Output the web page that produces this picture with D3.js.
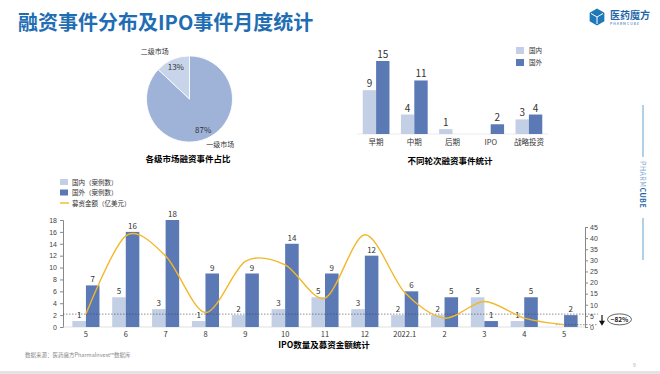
<!DOCTYPE html>
<head>
<meta charset="utf-8">
<script src="https://d3js.org/d3.v7.min.js"></script>
<style>
body {
  margin: 0;
  width: 660px;
  height: 374px;
  overflow: hidden;
  background: #fff;
  font-family: "Noto Sans CJK SC", "Noto Sans", sans-serif;
  color: #333;
}
.tick line { stroke: #888; }
.domain { stroke: #888; }
.tick text { fill: #444; }
</style>
</head>
<body>
<div id="chart"></div>
<script>

// --- data ---
let pieLabels = ["一级市场", "二级市场"],
    pieValues = [87, 13];

let stages = ["早期", "中期", "后期", "IPO", "战略投资"],
    stageDomestic = [9, 4, 1, 0, 3],
    stageForeign = [15, 11, 0, 2, 4];

let months = ["5", "6", "7", "8", "9", "10", "11", "12", "2022.1", "2", "3", "4", "5"],
    ipoDomestic = [1, 5, 3, 1, 2, 3, 5, 3, 2, 2, 5, 1, 0],
    ipoForeign = [7, 16, 18, 9, 9, 14, 9, 12, 6, 5, 1, 5, 2],
    ipoAmount = [5.8, 41, 32, 6.5, 29.5, 28, 13, 41.5, 15.5, 4, 11.5, 4, 1.05];

let leftTicks = d3.range(0, 19, 2),
    rightTicks = d3.range(0, 46, 5);

let cLight = "#c3cfe5", cDark = "#5b79b5", cLine = "#f2b829", cTitle = "#1f6db3";

let svg = d3.select("#chart").append("svg")
    .attr("width", 660)
    .attr("height", 374);

// --- header ---
svg.append("text")
    .attr("x", 18).attr("y", 30)
    .attr("font-size", 20).attr("font-weight", "bold")
    .attr("fill", cTitle)
    .text("融资事件分布及IPO事件月度统计");

// logo
let logo = svg.append("g").attr("transform", "translate(597,17)");
logo.append("path")
    .attr("d", d3.line()(d3.range(6).map(function(i) {
      let a = Math.PI / 3 * i + Math.PI / 6;
      return [8.5 * Math.cos(a), 8.5 * Math.sin(a)];
    })) + "Z")
    .attr("fill", "#1f78b8");
logo.append("path")
    .attr("d", "M0,0 L0,7 M0,0 L-6,-3.5 M0,0 L6,-3.5")
    .attr("stroke", "#fff").attr("stroke-width", 1);
svg.append("text")
    .attr("x", 610).attr("y", 19)
    .attr("font-size", 10).attr("font-weight", "bold")
    .attr("fill", "#1f66a8")
    .text("医药魔方");
svg.append("text")
    .attr("x", 610).attr("y", 25)
    .attr("font-size", 3.5).attr("letter-spacing", 1)
    .attr("fill", "#1f66a8")
    .text("PHARMCUBE");

// side brand line
svg.append("line").attr("x1", 643).attr("x2", 643).attr("y1", 105).attr("y2", 157)
    .attr("stroke", "#3a8cc4").attr("stroke-width", 0.8);
svg.append("line").attr("x1", 643).attr("x2", 643).attr("y1", 218).attr("y2", 260)
    .attr("stroke", "#3a8cc4").attr("stroke-width", 0.8);
let brand = svg.append("text")
    .attr("transform", "translate(640,161) rotate(90)")
    .attr("font-size", 7).attr("letter-spacing", 0.5);
brand.append("tspan").attr("fill", "#7aa6cc").text("PHARM");
brand.append("tspan").attr("fill", "#1f66a8").attr("font-weight", "bold").text("CUBE");

// footer
svg.append("text")
    .attr("x", 25).attr("y", 357)
    .attr("font-size", 5.5).attr("fill", "#888")
    .text("数据来源：医药魔方PharmaInvest™数据库");
svg.append("text")
    .attr("x", 633).attr("y", 367)
    .attr("font-size", 5).attr("fill", "#aaa")
    .text("9");
svg.append("rect")
    .attr("x", 0).attr("y", 371).attr("width", 660).attr("height", 3)
    .attr("fill", "#e4e4e4");

// --- pie ---
let pieR = 43;
let pieG = svg.append("g").attr("transform", "translate(189.5,99)");
let pie = d3.pie().sort(null)(pieValues);
let arc = d3.arc().innerRadius(0).outerRadius(pieR);
let labelArc = d3.arc().innerRadius(pieR * 0.8).outerRadius(pieR * 0.8);

pieG.selectAll("path")
  .data(pie)
  .enter().append("path")
    .attr("d", arc)
    .attr("fill", function(d, i) { return i == 0 ? "#9fb3d8" : "#c8d4e9"; })
    .attr("stroke", "#fff").attr("stroke-width", 0.8);

pieG.selectAll("text.pct")
  .data(pie)
  .enter().append("text")
    .attr("class", "pct")
    .attr("transform", function(d) { return "translate(" + labelArc.centroid(d) + ")"; })
    .attr("text-anchor", "middle").attr("dy", "0.35em")
    .attr("font-size", 8).attr("fill", "#333")
    .text(function(d) { return d.value + "%"; });

let outerArc = d3.arc().innerRadius(pieR * 1.1).outerRadius(pieR * 1.1);
pieG.selectAll("text.name")
  .data(pie)
  .enter().append("text")
    .attr("class", "name")
    .attr("transform", function(d, i) {
      let c = outerArc.centroid(d);
      return i == 0 ? "translate(" + (c[0] + 12) + "," + (c[1] + 4.5) + ")"
                    : "translate(" + (c[0] - 16) + "," + (c[1] - 2) + ")";
    })
    .attr("text-anchor", "middle")
    .attr("font-size", 7).attr("fill", "#333")
    .text(function(d, i) { return pieLabels[i]; });

svg.append("text")
    .attr("x", 188).attr("y", 162)
    .attr("text-anchor", "middle")
    .attr("font-size", 8.5).attr("font-weight", "bold")
    .text("各级市场融资事件占比");

// --- stage bars ---
let sx0 = d3.scaleBand().domain(stages).range([357, 548]),
    sy = d3.scaleLinear().domain([0, 15]).range([134, 61]);
let sbw = sx0.step() * 0.35;
let sx1 = d3.scaleBand().domain(["d", "f"]).range([-sbw, sbw]);

let stageRows = stages.map(function(s, i) {
  return {key: s, vals: [{k: "d", v: stageDomestic[i]}, {k: "f", v: stageForeign[i]}]};
});

svg.append("line")
    .attr("x1", sx0.range()[0]).attr("x2", sx0.range()[1])
    .attr("y1", sy(0)).attr("y2", sy(0))
    .attr("stroke", "#ddd").attr("stroke-width", 0.6);

let sg = svg.selectAll("g.stage")
  .data(stageRows)
  .enter().append("g")
    .attr("class", "stage")
    .attr("transform", function(d) { return "translate(" + (sx0(d.key) + sx0.bandwidth() / 2) + ",0)"; });

sg.selectAll("rect")
  .data(function(d) { return d.vals.filter(function(v) { return v.v > 0; }); })
  .enter().append("rect")
    .attr("x", function(d) { return sx1(d.k); })
    .attr("width", sx1.bandwidth())
    .attr("y", function(d) { return sy(d.v); })
    .attr("height", function(d) { return sy(0) - sy(d.v); })
    .attr("fill", function(d) { return d.k == "d" ? cLight : cDark; });

sg.selectAll("text.val")
  .data(function(d) { return d.vals.filter(function(v) { return v.v > 0; }); })
  .enter().append("text")
    .attr("class", "val")
    .attr("x", function(d) { return sx1(d.k) + sx1.bandwidth() / 2; })
    .attr("y", function(d) { return sy(d.v) - 3; })
    .attr("text-anchor", "middle")
    .attr("font-size", 10).attr("fill", "#333")
    .text(function(d) { return d.v; });

sg.append("text")
    .attr("y", sy(0) + 11)
    .attr("text-anchor", "middle")
    .attr("font-size", 7.5).attr("fill", "#333")
    .text(function(d) { return d.key; });

svg.append("text")
    .attr("x", 450).attr("y", 164)
    .attr("text-anchor", "middle")
    .attr("font-size", 8.5).attr("font-weight", "bold")
    .text("不同轮次融资事件统计");

let sLeg = svg.selectAll("g.sleg")
  .data([["国内", cLight], ["国外", cDark]])
  .enter().append("g")
    .attr("class", "sleg")
    .attr("transform", function(d, i) { return "translate(516," + (47 + i * 12) + ")"; });
sLeg.append("rect").attr("width", 8).attr("height", 7).attr("fill", function(d) { return d[1]; });
sLeg.append("text").attr("x", 13).attr("y", 6)
    .attr("font-size", 6.5).attr("fill", "#333")
    .text(function(d) { return d[0]; });

// --- IPO monthly chart ---
let x0 = d3.scaleBand().domain(d3.range(months.length)).range([66, 584]),
    yL = d3.scaleLinear().domain([0, 18]).range([327, 220]),
    yR = d3.scaleLinear().domain([0, 45]).range([327, 227]);
let bw = x0.step() * 0.34;
let x1 = d3.scaleBand().domain(["d", "f"]).range([-bw, bw]);
let cx = function(i) { return x0(i) + x0.bandwidth() / 2; };

let g = svg.append("g");

g.append("g")
    .attr("transform", "translate(63,0)")
    .call(d3.axisLeft(yL).tickValues(leftTicks).tickSize(3).tickPadding(3))
    .call(function(a) { a.selectAll("text").attr("font-size", 7); });

g.append("g")
    .attr("transform", "translate(585,0)")
    .call(d3.axisRight(yR).tickValues(rightTicks).tickSize(3).tickPadding(2))
    .call(function(a) { a.selectAll("text").attr("font-size", 7); });

g.append("line")
    .attr("x1", 63).attr("x2", 585)
    .attr("y1", yL(0)).attr("y2", yL(0))
    .attr("stroke", "#ccc").attr("stroke-width", 0.6);

let monthRows = months.map(function(m, i) {
  return {i: i, key: m, vals: [{k: "d", v: ipoDomestic[i]}, {k: "f", v: ipoForeign[i]}]};
});

let mg = g.selectAll("g.month")
  .data(monthRows)
  .enter().append("g")
    .attr("class", "month")
    .attr("transform", function(d) { return "translate(" + cx(d.i) + ",0)"; });

mg.selectAll("rect")
  .data(function(d) { return d.vals.filter(function(v) { return v.v > 0; }); })
  .enter().append("rect")
    .attr("x", function(d) { return x1(d.k); })
    .attr("width", x1.bandwidth())
    .attr("y", function(d) { return yL(d.v); })
    .attr("height", function(d) { return yL(0) - yL(d.v); })
    .attr("fill", function(d) { return d.k == "d" ? cLight : cDark; });

mg.selectAll("text.val")
  .data(function(d) { return d.vals.filter(function(v) { return v.v > 0; }); })
  .enter().append("text")
    .attr("class", "val")
    .attr("x", function(d) { return x1(d.k) + x1.bandwidth() / 2; })
    .attr("y", function(d) { return yL(d.v) - 3; })
    .attr("text-anchor", "middle")
    .attr("font-size", 8).attr("fill", "#333")
    .text(function(d) { return d.v; });

mg.append("text")
    .attr("y", 337)
    .attr("text-anchor", "middle")
    .attr("font-size", 7.5).attr("fill", "#333")
    .text(function(d) { return d.key; });

// reference lines for -82%
let first = ipoAmount[0], last = ipoAmount[ipoAmount.length - 1];
g.append("line")
    .attr("x1", 63).attr("x2", 598)
    .attr("y1", yR(first)).attr("y2", yR(first))
    .attr("stroke", "#444").attr("stroke-width", 0.6).attr("stroke-dasharray", "1.5,1.5");
g.append("line")
    .attr("x1", cx(months.length - 1) - 8).attr("x2", 598)
    .attr("y1", yR(last)).attr("y2", yR(last))
    .attr("stroke", "#444").attr("stroke-width", 0.6).attr("stroke-dasharray", "1.5,1.5");

g.append("line")
    .attr("x1", 602).attr("x2", 602)
    .attr("y1", yR(first) + 1).attr("y2", yR(last) - 3)
    .attr("stroke", "#111").attr("stroke-width", 1.2);
g.append("path")
    .attr("d", "M599," + (yR(last) - 4) + " L605," + (yR(last) - 4) + " L602," + (yR(last) + 1) + "Z")
    .attr("fill", "#111");
g.append("ellipse")
    .attr("cx", 619.5).attr("cy", (yR(first) + yR(last)) / 2)
    .attr("rx", 12).attr("ry", 5.5)
    .attr("fill", "#fff").attr("stroke", "#222").attr("stroke-width", 0.7);
g.append("text")
    .attr("x", 619.5).attr("y", (yR(first) + yR(last)) / 2)
    .attr("dy", "0.35em").attr("text-anchor", "middle")
    .attr("font-size", 6.5).attr("font-weight", "bold").attr("fill", "#222")
    .text(d3.format(".0%")(last / first - 1));

// amount line
g.append("path")
    .datum(ipoAmount)
    .attr("fill", "none")
    .attr("stroke", cLine)
    .attr("stroke-width", 1.4)
    .attr("d", d3.line()
      .x(function(d, i) { return cx(i); })
      .y(function(d) { return yR(d); })
      .curve(d3.curveCardinal.tension(0.1)));

g.append("text")
    .attr("x", 324).attr("y", 348)
    .attr("text-anchor", "middle")
    .attr("font-size", 8.5).attr("font-weight", "bold")
    .text("IPO数量及募资金额统计");

// legend
let leg = svg.selectAll("g.leg")
  .data([["国内（案例数）", cLight, "rect"], ["国外（案例数）", cDark, "rect"], ["募资金额（亿美元）", cLine, "line"]])
  .enter().append("g")
    .attr("class", "leg")
    .attr("transform", function(d, i) { return "translate(60," + (179 + i * 10.5) + ")"; });
leg.filter(function(d) { return d[2] == "rect"; }).append("rect")
    .attr("width", 8).attr("height", 6).attr("fill", function(d) { return d[1]; });
leg.filter(function(d) { return d[2] == "line"; }).append("line")
    .attr("x1", 0).attr("x2", 9).attr("y1", 3).attr("y2", 3)
    .attr("stroke", function(d) { return d[1]; }).attr("stroke-width", 1.4);
leg.append("text").attr("x", 12).attr("y", 5.5)
    .attr("font-size", 6.5).attr("fill", "#333")
    .text(function(d) { return d[0]; });
</script>
</body>
